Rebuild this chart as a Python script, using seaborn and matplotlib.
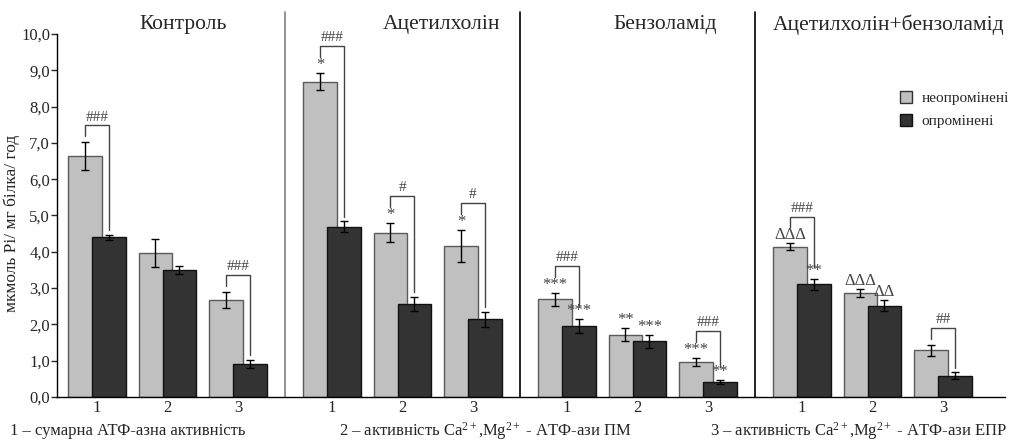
import numpy as np
import matplotlib as mpl
mpl.use('Agg')
import matplotlib.pyplot as plt
from matplotlib.lines import Line2D
import seaborn as sns

# ============================================ #
# data
# ============================================ #

groups = ['Контроль', 'Ацетилхолін', 'Бензоламід', 'Ацетилхолін+бензоламід']
activities = ['1', '2', '3']
series = ['неопромінені', 'опромінені']

light_mean = [6.64, 3.96, 2.67, 8.69, 4.53, 4.17, 2.69, 1.71, 0.97, 4.14, 2.86, 1.29]
light_err = [0.38, 0.38, 0.23, 0.24, 0.27, 0.44, 0.18, 0.18, 0.11, 0.09, 0.11, 0.15]
dark_mean = [4.40, 3.50, 0.91, 4.69, 2.56, 2.14, 1.96, 1.53, 0.42, 3.10, 2.52, 0.59]
dark_err = [0.07, 0.12, 0.12, 0.15, 0.19, 0.20, 0.20, 0.17, 0.06, 0.14, 0.16, 0.09]

light_marks = ['', '', '', '*', '*', '*', '***', '**', '***', 'ΔΔΔ', 'ΔΔΔ', '']
dark_marks = ['', '', '', '', '', '', '***', '***', '**', '**', 'ΔΔ', '']
pair_marks = ['###', '', '###', '###', '#', '#', '###', '', '###', '###', '', '##']

bottom_labels = ['1 – сумарна АТФ-азна активність',
                 '2 – активність Ca$^{2+}$,Mg$^{2+}$ - АТФ-ази ПМ',
                 '3 – активність Ca$^{2+}$,Mg$^{2+}$ - АТФ-ази ЕПР']
ylabel = 'мкмоль Pi/ мг білка/ год'

# ============================================ #
# style
# ============================================ #

sns.set_theme(style='ticks', context='paper')
mpl.rcParams['font.family'] = ['Liberation Serif', 'DejaVu Serif']
mpl.rcParams['mathtext.fontset'] = 'custom'
mpl.rcParams['mathtext.rm'] = 'Liberation Serif'
mpl.rcParams['mathtext.it'] = 'Liberation Serif:italic'

light_col, light_edge = '#c0c0c0', '#5a5a5a'
dark_col, dark_edge = '#333333', '#111111'
ann_col = '#444444'

fig = plt.figure(figsize=(10.12, 4.40), dpi=100)
ax = fig.add_axes([57 / 1012, 1 - 397 / 440, 948 / 1012, 363 / 440])

# cluster centres: 3 per group, one extra third between groups
gap = 10 / 3
centres = np.array([g * gap + j for g in range(len(groups)) for j in range(len(activities))])
off = 0.17
light_x = centres - off
dark_x = centres + off

sns.barplot(x=light_x, y=light_mean, native_scale=True, orient='x', width=0.48,
            color=light_col, saturation=1, edgecolor=light_edge, linewidth=1,
            errorbar=None, ax=ax)
sns.barplot(x=dark_x, y=dark_mean, native_scale=True, orient='x', width=0.48,
            color=dark_col, saturation=1, edgecolor=dark_edge, linewidth=1,
            errorbar=None, ax=ax)
ax.errorbar(light_x, light_mean, yerr=light_err, fmt='none', ecolor='black',
            elinewidth=1, capsize=3, capthick=1, zorder=5)
ax.errorbar(dark_x, dark_mean, yerr=dark_err, fmt='none', ecolor='black',
            elinewidth=1, capsize=3, capthick=1, zorder=5)

# significance marks and brackets
for i in range(len(centres)):
    ltop = light_mean[i] + light_err[i]
    dtop = dark_mean[i] + dark_err[i]
    ly = ltop + 0.22
    dy = dtop + 0.22
    if light_marks[i]:
        ax.text(light_x[i], ly, light_marks[i], ha='center', va='center',
                fontsize=12, color=ann_col, zorder=6)
    if dark_marks[i]:
        ax.text(dark_x[i], dy, dark_marks[i], ha='center', va='center',
                fontsize=12, color=ann_col, zorder=6)
    if pair_marks[i]:
        lb = ly + 0.22 if light_marks[i] else ltop + 0.17
        rb = dy + 0.12 if dark_marks[i] else dtop + 0.13
        top = lb + 0.3
        ax.plot([light_x[i], light_x[i], dark_x[i], dark_x[i]], [lb, top, top, rb],
                color=ann_col, lw=1, zorder=6)
        ax.text(centres[i], top + 0.22, pair_marks[i], ha='center', va='center',
                fontsize=11, color=ann_col, zorder=6)

# group separators and titles
sep_cols = ['#808080', 'black', 'black']
for k in range(len(groups) - 1):
    xs = (k + 1) * gap - (gap - 2) / 2
    ax.plot([xs, xs], [0, 10.6], color=sep_cols[k], lw=1.2, clip_on=False, zorder=1)

title_x = [1.22, 4.89, 8.06, 11.23]
for t, tx in zip(groups, title_x):
    ax.text(tx, 10.25, t, ha='center', va='center', fontsize=15.5, clip_on=False)

# axes
ax.set_xlim(-0.567, 12.88)
ax.set_ylim(0, 10)
ax.set_yticks(np.arange(0, 11, 1))
ax.set_yticklabels(['{:.1f}'.format(v).replace('.', ',') for v in np.arange(0, 11, 1)],
                   fontsize=12)
ax.set_xticks(centres)
ax.set_xticklabels(activities * len(groups), fontsize=12)
ax.tick_params(axis='x', length=0, pad=2)
ax.tick_params(axis='y', length=4, width=1, pad=1, direction='out')
sns.despine(ax=ax)
for s in ['left', 'bottom']:
    ax.spines[s].set_linewidth(1)
    ax.spines[s].set_color('black')
ax.set_xlabel('')
ax.set_ylabel('')

fig.text(12 / 1012, 1 - 223 / 440, ylabel, rotation=90, ha='center', va='center', fontsize=12.5)

# legend
handles = [Line2D([], [], marker='s', ls='', markersize=8, markerfacecolor=light_col,
                  markeredgecolor='#333333'),
           Line2D([], [], marker='s', ls='', markersize=8, markerfacecolor=dark_col,
                  markeredgecolor='#111111')]
fig.legend(handles, series, loc='center left', bbox_to_anchor=(898 / 1012, 1 - 110 / 440),
           frameon=False, fontsize=11, handlelength=1, handletextpad=0.55,
           labelspacing=0.6, borderpad=0, borderaxespad=0)

# activity captions under the axis
cap_y = 1 - 431 / 440
fig.text(10 / 1012, cap_y, bottom_labels[0], ha='left', va='center', fontsize=12)
fig.text(339 / 1012, cap_y, bottom_labels[1], ha='left', va='center', fontsize=12)
fig.text(1007 / 1012, cap_y, bottom_labels[2], ha='right', va='center', fontsize=12)

fig.savefig('out.png', dpi=100)
